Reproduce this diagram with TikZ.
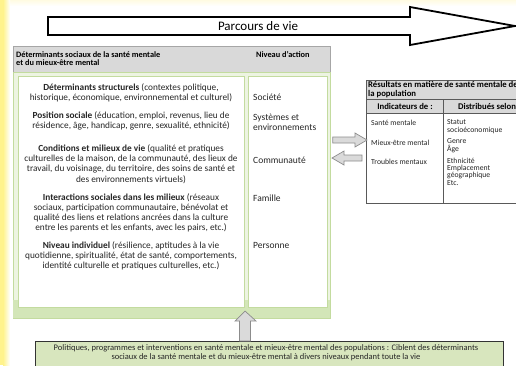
\documentclass[tikz,border=0pt]{standalone}
\usepackage{fontspec}
\setmainfont{Carlito}
\usetikzlibrary{calc}

\definecolor{stripyellow}{HTML}{FFF38C}
\definecolor{topyellow}{HTML}{FFFBE2}
\definecolor{headgrey}{HTML}{D9D9D9}
\definecolor{headline}{HTML}{A6A6A6}
\definecolor{greenfill}{HTML}{EDF4E2}
\definecolor{greenband}{HTML}{D3E6B8}
\definecolor{greenline}{HTML}{C3DB9F}
\definecolor{policyfill}{HTML}{D8E6BE}
\definecolor{arrowgrey}{HTML}{DADADA}
\definecolor{arrowline}{HTML}{8C8C8C}
\definecolor{textgrey}{HTML}{262626}

\tikzset{
  lifearrow/.style={draw=black, line width=1.8pt, fill=white, line join=miter},
  hdrbox/.style={draw=headline, fill=headgrey, line width=0.6pt, inner sep=0pt},
  mainbox/.style={draw=greenline, fill=greenfill, line width=0.8pt, inner sep=0pt},
  panel/.style={draw=greenline, fill=white, line width=0.8pt, inner sep=0pt},
  detblock/.style={align=center, inner sep=0pt, text=textgrey,
    font=\fontsize{9.3}{10.2}\selectfont},
  levellabel/.style={anchor=west, inner sep=0pt, text=textgrey,
    font=\fontsize{9.5}{10.2}\selectfont, align=left},
  hdrtext/.style={anchor=west, inner sep=0pt, text=black,
    font=\fontsize{8.3}{8.5}\selectfont\bfseries, align=left},
  tabtext/.style={anchor=west, inner sep=0pt, text=textgrey,
    font=\fontsize{7.7}{7.4}\selectfont, align=left},
  tabhead/.style={inner sep=0pt, text=black,
    font=\fontsize{8.7}{8.8}\selectfont\bfseries, align=left},
  tabrule/.style={draw=black!65, line width=0.5pt},
  blockarrow/.style={draw=arrowline, fill=arrowgrey, line width=0.7pt, line join=miter},
  policybox/.style={draw=black!80, fill=policyfill, line width=1.2pt, inner sep=0pt},
}

\begin{document}
\begin{tikzpicture}[x=1pt, y=-1pt]
\useasboundingbox (0,0) rectangle (516,365);
\clip (0,0) rectangle (516,365);

% paper with its yellow edges
\fill[white] (0,0) rectangle (516,365);
\shade[top color=topyellow, bottom color=white] (0,0) rectangle (516,6);
\fill[stripyellow] (0,0) rectangle (3,365);
\shade[left color=stripyellow, right color=white] (3,0) rectangle (10,365);

% life course arrow
\draw[lifearrow] (48,17) -- (410,17) -- (410,7) -- (515,26)
  -- (410,45) -- (410,35) -- (48,35) -- cycle;
\node[font=\fontsize{13}{14}\selectfont] (lifecourse) at (258,26) {Parcours de vie};

% header of the determinants box
\node[hdrbox, anchor=north west, minimum width=317pt, minimum height=26pt] (head) at (13,46) {};
\node[hdrtext] (headleft) at (16,59)
  {Déterminants sociaux de la santé mentale\\[-0.5pt]et du mieux-être mental};
\node[hdrtext] (headright) at (256,55) {Niveau d'action};

% determinants box
\node[mainbox, anchor=north west, minimum width=317pt, minimum height=246pt] (main) at (13,72) {};
\fill[greenband] (13.4,300) rectangle (329.6,317.6);
\node[panel, anchor=north west, minimum width=226pt, minimum height=231pt] (detpanel) at (18,76) {};
\node[panel, anchor=north west, minimum width=79pt, minimum height=231pt] (levelpanel) at (248,76) {};

% determinants
\node[detblock] (structural) at (131,93)
  {\textbf{Déterminants structurels} (contextes politique,\\
   historique, économique, environnemental et culturel)};
\node[detblock] (position) at (131,121)
  {\textbf{Position sociale} (éducation, emploi, revenus, lieu de\\
   résidence, âge, handicap, genre, sexualité, ethnicité)};
\node[detblock] (conditions) at (131,164)
  {\textbf{Conditions et milieux de vie} (qualité et pratiques\\
   culturelles de la maison, de la communauté, des lieux de\\
   travail, du voisinage, du territoire, des soins de santé et\\
   des environnements virtuels)};
\node[detblock] (interactions) at (131,213)
  {\textbf{Interactions sociales dans les milieux} (réseaux\\
   sociaux, participation communautaire, bénévolat et\\
   qualité des liens et relations ancrées dans la culture\\
   entre les parents et les enfants, avec les pairs, etc.)};
\node[detblock] (individual) at (131,256)
  {\textbf{Niveau individuel} (résilience, aptitudes à la vie\\
   quotidienne, spiritualité, état de santé, comportements,\\
   identité culturelle et pratiques culturelles, etc.)};

% levels of action
\node[levellabel] (society) at (253,97) {Société};
\node[levellabel] (systems) at (253,122) {Systèmes et\\environnements};
\node[levellabel] (community) at (253,160) {Communauté};
\node[levellabel] (family) at (253,198) {Famille};
\node[levellabel] (person) at (253,245) {Personne};

% population outcomes table
\node[anchor=north west, minimum width=185pt, minimum height=123pt, inner sep=0pt]
  (results) at (366,80) {};
\fill[headgrey] (results.north west) rectangle (results.east |- 0,113);
\draw[tabrule, line width=0.6pt] (results.north west) rectangle (results.south east);
\draw[tabrule] (results.west |- 0,99) -- (results.east |- 0,99);
\draw[tabrule] (results.west |- 0,113) -- (results.east |- 0,113);
\draw[tabrule] (443,99) -- (results.south -| 443,0);
\node[tabhead, anchor=west] (restitle) at (368,89.5)
  {Résultats en matière de santé mentale de\\la population};
\node[tabhead] (indicators) at (405,106) {Indicateurs de :};
\node[tabhead, anchor=west] (distributed) at (458,106) {Distribués selon};
\node[tabtext] (mhealth) at (371,123) {Santé mentale};
\node[tabtext] (wellbeing) at (371,143) {Mieux-être mental};
\node[tabtext] (disorders) at (371,162) {Troubles mentaux};
\node[tabtext] (status) at (447,126.5) {Statut\\socioéconomique};
\node[tabtext] (gender) at (447,145.5) {Genre\\Âge};
\node[tabtext] (ethnic) at (447,171.5) {Ethnicité\\Emplacement\\géographique\\Etc.};

% exchange arrows between the two boxes
\coordinate (outstart) at (main.east |- 0,140);
\draw[blockarrow] ($(outstart)+(2,-3)$) -- (355,137) -- (355,133) -- (367,140)
  -- (355,147) -- (355,143) -- ($(outstart)+(2,3)$) -- cycle;
\coordinate (instart) at (results.west |- 0,158);
\draw[blockarrow] ($(instart)+(-4,-3)$) -- (344,155) -- (344,151) -- (332,158)
  -- (344,165) -- (344,161) -- ($(instart)+(-4,3)$) -- cycle;

% policies box and its upward arrow
\node[policybox, anchor=north west, minimum width=468pt, minimum height=40pt] (policy) at (35,341) {};
\node[inner sep=0pt, align=center, text=textgrey, font=\fontsize{8.5}{9}\selectfont]
  (policytext) at (266,352.5)
  {Politiques, programmes et interventions en santé mentale et mieux-être mental des populations : Ciblent des déterminants\\
   sociaux de la santé mentale et du mieux-être mental à divers niveaux pendant toute la vie};
\draw[blockarrow] (policy.north -| 239.5,0) -- (239.5,321) -- (235,321) -- (245,311)
  -- (256,321) -- (250.5,321) -- (policy.north -| 250.5,0) -- cycle;
\end{tikzpicture}
\end{document}
